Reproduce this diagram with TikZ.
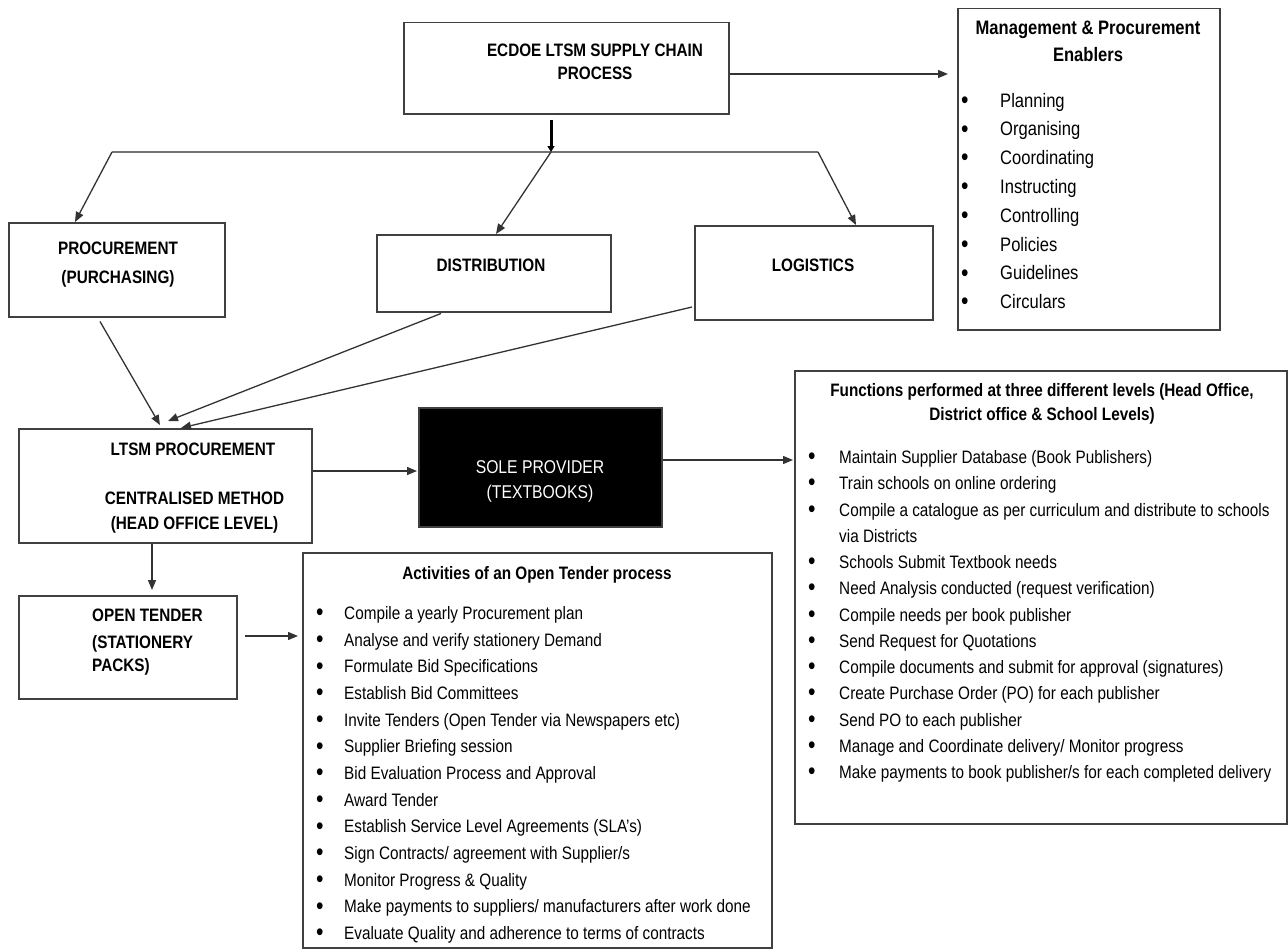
\documentclass[tikz,border=0pt]{standalone}
\usepackage{fontspec}
\setmainfont{Liberation Sans}[FakeStretch=0.85]
\usetikzlibrary{arrows.meta,calc}
\newcommand{\mybul}[1]{\makebox[#1][l]{\hspace{-1pt}\raisebox{-1.2pt}{\fontsize{25}{25}\selectfont\textbullet}}}
\begin{document}
\begin{tikzpicture}[x=1pt,y=-1pt,
  box/.style={draw=black!75, line width=1.5pt, inner sep=0pt, anchor=north west},
  arr/.style={draw=black!80, line width=1.3pt, -{Triangle[length=10pt,width=8pt]}},
  branch/.style={draw=black!55, line width=2pt},
  hd/.style={font=\bfseries\fontsize{18}{22}\selectfont, inner sep=0pt, anchor=base},
  hdm/.style={font=\bfseries\fontsize{19.5}{24}\selectfont, inner sep=0pt, anchor=base},
  it/.style={font=\fontsize{18}{22}\selectfont, inner sep=0pt, anchor=base west},
  itm/.style={font=\fontsize{19.5}{24}\selectfont, inner sep=0pt, anchor=base west}]
\useasboundingbox (0,0) rectangle (1288,950);

% boxes
\node[box, minimum width=325pt, minimum height=91pt] (top) at (403,22) {};
\node[box, minimum width=262pt, minimum height=321pt] (mgmt) at (957,8) {};
\node[box, minimum width=216pt, minimum height=94pt] (proc) at (8,222) {};
\node[box, minimum width=234pt, minimum height=77pt] (dist) at (376,234) {};
\node[box, minimum width=238pt, minimum height=94pt] (logi) at (694,225) {};
\node[box, minimum width=293pt, minimum height=114pt] (ltsm) at (18,428) {};
\node[box, fill=black, minimum width=243pt, minimum height=119pt] (sole) at (418,407) {};
\node[box, minimum width=492pt, minimum height=453pt] (func) at (794,370) {};
\node[box, minimum width=218pt, minimum height=103pt] (open) at (18,595) {};
\node[box, minimum width=469pt, minimum height=395pt] (act) at (302,552) {};

% box texts
\node[hd] (topt1) at (595,56.5) {ECDOE LTSM SUPPLY CHAIN};
\node[hd] (topt2) at (595,79.5) {PROCESS};
\node[hdm] (mgt1) at (1088,35) {Management \& Procurement};
\node[hdm] (mgt2) at (1088,62) {Enablers};
\node[hd] (proct1) at (118,254.5) {PROCUREMENT};
\node[hd] (proct2) at (118,283.5) {(PURCHASING)};
\node[hd] (distt) at (491,271.5) {DISTRIBUTION};
\node[hd] (logit) at (813,271.5) {LOGISTICS};
\node[hd] (ltsmt1) at (193,455.5) {LTSM PROCUREMENT};
\node[hd] (ltsmt2) at (194.5,504.5) {CENTRALISED METHOD};
\node[hd] (ltsmt3) at (194.5,529.5) {(HEAD OFFICE LEVEL)};
\node[hd, font=\fontsize{18.5}{22}\selectfont, text=white] (solet1) at (540,473.5) {SOLE PROVIDER};
\node[hd, font=\fontsize{18.5}{22}\selectfont, text=white] (solet2) at (540,498.5) {(TEXTBOOKS)};
\node[hd, anchor=base west] (opent1) at (92,621.5) {OPEN TENDER};
\node[hd, anchor=base west] (opent2) at (92,648.5) {(STATIONERY};
\node[hd, anchor=base west] (opent3) at (92,671.5) {PACKS)};
\node[hd] (actt) at (537,579.5) {Activities of an Open Tender process};
\node[hd] (funct1) at (1042,396.5) {Functions performed at three different levels (Head Office,};
\node[hd] (funct2) at (1042,420.5) {District office \& School Levels)};

% lists
\foreach \t [count=\i from 0] in {Planning, Organising, Coordinating, Instructing, Controlling, Policies, Guidelines, Circulars}
  \node[itm] (mg\i) at (962,{107+\i*28.8}) {\mybul{38pt}\t};

\foreach \k/\t in {0/{Maintain Supplier Database (Book Publishers)},
  1/{Train schools on online ordering},
  2/{Compile a catalogue as per curriculum and distribute to schools},
  4/{Schools Submit Textbook needs},
  5/{Need Analysis conducted (request verification)},
  6/{Compile needs per book publisher},
  7/{Send Request for Quotations},
  8/{Compile documents and submit for approval (signatures)},
  9/{Create Purchase Order (PO) for each publisher},
  10/{Send PO to each publisher},
  11/{Manage and Coordinate delivery/ Monitor progress},
  12/{Make payments to book publisher/s for each completed delivery}}
  \node[it] (fn\k) at (809,{463.5+\k*26.25}) {\mybul{30pt}\t};
\node[it] (fn3) at (839,{463.5+3*26.25}) {via Districts};

\foreach \k/\t in {0/{Compile a yearly Procurement plan},
  1/{Analyse and verify stationery Demand},
  2/{Formulate Bid Specifications},
  3/{Establish Bid Committees},
  4/{Invite Tenders (Open Tender via Newspapers etc)},
  5/{Supplier Briefing session},
  6/{Bid Evaluation Process and Approval},
  7/{Award Tender},
  8/{Establish Service Level Agreements (SLA’s)},
  9/{Sign Contracts/ agreement with Supplier/s},
  10/{Monitor Progress \& Quality},
  11/{Make payments to suppliers/ manufacturers after work done},
  12/{Evaluate Quality and adherence to terms of contracts}}
  \node[it] (ac\k) at (317,{619.5+\k*26.67}) {\mybul{27pt}\t};

% connectors
\coordinate (hub) at (551,152);
\coordinate (hl) at (112,152);
\coordinate (hr) at (818,152);
\draw[branch] (hl) -- (hr);
\draw[draw=black, line width=3pt, -{Triangle[length=6pt,width=7pt]}] ($(top.south west)+(148,5)$) -- (hub);
\draw[arr] (hl) -- ($(proc.north west)+(67,0)$);
\draw[arr] (hub) -- ($(dist.north west)+(120,0)$);
\draw[arr] (hr) -- ($(logi.north west)+(162,0)$);
\draw[arr] ($(top.north east)+(0,52)$) -- ($(mgmt.north west)+(-9,66)$);
\draw[arr] ($(proc.south west)+(92,4)$) -- ($(ltsm.north west)+(142,-3)$);
\draw[arr] ($(dist.south west)+(65,1)$) -- ($(ltsm.north west)+(150,-7)$);
\draw[arr] ($(logi.north west)+(-2,82)$) -- ($(ltsm.north west)+(163,0)$);
\draw[arr] ($(ltsm.north east)+(0,43)$) -- ($(sole.north west)+(-1,64)$);
\draw[arr] ($(sole.north east)+(0,53)$) -- ($(func.north west)+(-1,90)$);
\draw[arr] ($(ltsm.south west)+(134,0)$) -- ($(open.north west)+(134,-5)$);
\draw[arr] ($(open.north east)+(7,41)$) -- ($(act.north west)+(-4,84)$);
\end{tikzpicture}
\end{document}
